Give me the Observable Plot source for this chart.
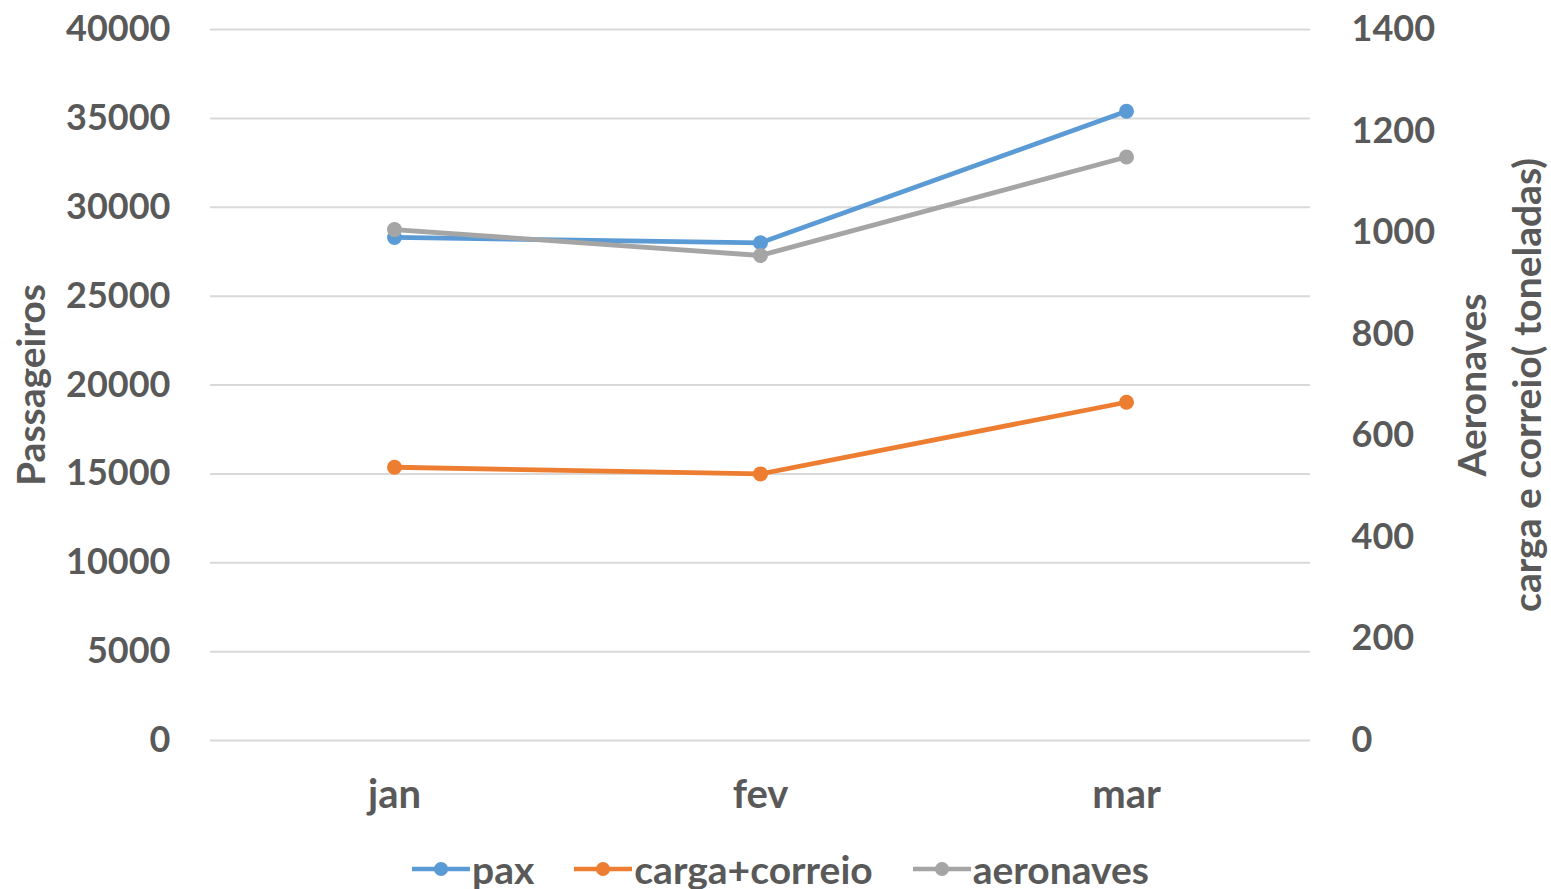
<!DOCTYPE html>
<html><head><meta charset="utf-8">
<script src="https://cdn.jsdelivr.net/npm/d3@7"></script>
<script src="https://cdn.jsdelivr.net/npm/@observablehq/plot@0.6"></script>
<style>
body{margin:0;background:#fff;font-family:Lato, sans-serif;overflow:hidden;}
#legend{display:flex;justify-content:center;align-items:center;gap:40px;font-weight:bold;font-size:39px;color:#595959;margin-left:10px;height:44px;line-height:1;margin-top:2px}
#legend .item{display:flex;align-items:center;}
#legend svg{margin-right:2px}
</style></head><body><div id="chart"></div><div id="legend"></div>
<script>
const months = ["jan", "fev", "mar"];
const pax = [28300, 28000, 35400];
const carga = [538, 525, 666];
const aeronaves = [1006, 955, 1149];
const leftTicks = [0, 5000, 10000, 15000, 20000, 25000, 30000, 35000, 40000];
const rightTicks = [0, 200, 400, 600, 800, 1000, 1200, 1400];
const seriesNames = ["pax", "carga+correio", "aeronaves"];
const colors = ["#5b9bd5", "#ed7d31", "#a5a5a5"];
const leftMax = 40000, rightMax = 1400;
const k = leftMax / rightMax;

const seriesValues = [pax, carga, aeronaves];
const seriesScale = [1, k, k];
const data = [];
seriesNames.forEach((s, si) => {
  seriesValues[si].forEach((v, i) => data.push({month: months[i], series: s, y: v * seriesScale[si]}));
});

const seriesMarks = [];
seriesNames.forEach(s => {
  const d = data.filter(r => r.series === s);
  seriesMarks.push(Plot.line(d, {x: "month", y: "y", stroke: "series", strokeWidth: 4.8}));
  seriesMarks.push(Plot.dot(d, {x: "month", y: "y", fill: "series", r: 7.5}));
});

const titleStyle = {rotate: -90, textAnchor: "middle", fill: "#595959", fontSize: 39, fontWeight: "bold"};

const chart = Plot.plot({
  width: 1551, height: 845,
  marginLeft: 210, marginRight: 241, marginTop: 29, marginBottom: 105,
  style: {fontFamily: "Lato, sans-serif", fontWeight: "bold", fontSize: "36px", color: "#595959", background: "white"},
  x: {type: "point", domain: months, padding: 0.5},
  y: {domain: [0, leftMax]},
  color: {domain: seriesNames, range: colors},
  marks: [
    Plot.ruleY(leftTicks, {stroke: "#d9d9d9", strokeWidth: 2}),
    Plot.axisY(leftTicks, {anchor: "left", tickSize: 0, tickPadding: 40, tickFormat: d => String(d), label: null}),
    Plot.axisY(rightTicks.map(v => v * k), {anchor: "right", tickSize: 0, tickPadding: 41, tickFormat: d => String(Math.round(d / k)), label: null}),
    Plot.axisX({tickSize: 0, tickPadding: 39, label: null, fontSize: 40}),
    Plot.text(["Passageiros"], {frameAnchor: "left", dx: -178, ...titleStyle}),
    Plot.text(["Aeronaves"], {frameAnchor: "right", dx: 163, ...titleStyle}),
    Plot.text(["carga e correio( toneladas)"], {frameAnchor: "right", dx: 218, ...titleStyle}),
    ...seriesMarks
  ]
});
document.getElementById("chart").appendChild(chart);

const legend = document.getElementById("legend");
seriesNames.forEach((s, i) => {
  const item = document.createElement("div");
  item.className = "item";
  item.innerHTML = `<svg width="58" height="20"><line x1="0" y1="10" x2="58" y2="10" stroke="${colors[i]}" stroke-width="4.5"/><circle cx="29" cy="10" r="7" fill="${colors[i]}"/></svg><span>${s}</span>`;
  legend.appendChild(item);
});
</script>
</body></html>
